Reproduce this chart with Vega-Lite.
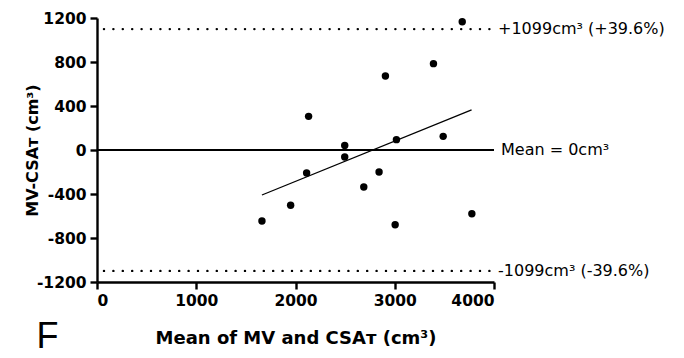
{
  "$schema": "https://vega.github.io/schema/vega-lite/v6.json",
  "autosize": {"type": "none"},
  "width": 397,
  "height": 264,
  "padding": {"left": 97, "top": 18, "right": 190, "bottom": 76},
  "background": "white",
  "config": {
    "view": {"stroke": null},
    "font": "DejaVu Sans",
    "axis": {
      "domainColor": "black",
      "domainWidth": 2.4,
      "tickColor": "black",
      "tickWidth": 2.4,
      "tickSize": 7,
      "grid": false,
      "labelExpr": "toString(datum.value)",
      "labelFont": "DejaVu Sans",
      "labelFontWeight": "bold",
      "labelFontSize": 15.5,
      "labelColor": "black",
      "titleFont": "DejaVu Sans",
      "titleFontWeight": "bold",
      "titleColor": "black"
    }
  },
  "datasets": {
    "points": [
      {"mean": 3680, "diff": 1166},
      {"mean": 3390, "diff": 785},
      {"mean": 2906, "diff": 673},
      {"mean": 2132, "diff": 306},
      {"mean": 3488, "diff": 124},
      {"mean": 3017, "diff": 94},
      {"mean": 2496, "diff": 42},
      {"mean": 2496, "diff": -64},
      {"mean": 2112, "diff": -209},
      {"mean": 2842, "diff": -200},
      {"mean": 2688, "diff": -336},
      {"mean": 1951, "diff": -503},
      {"mean": 1662, "diff": -645},
      {"mean": 3004, "diff": -679},
      {"mean": 3777, "diff": -579}
    ],
    "fit": [
      {"mean": 1662, "diff": -409},
      {"mean": 3774, "diff": 364}
    ],
    "limits": [
      {"diff": 1099, "from": 70, "to": 3970, "label": "+1099cm³ (+39.6%)"},
      {"diff": -1099, "from": 70, "to": 3970, "label": "-1099cm³ (-39.6%)"}
    ],
    "bias": [
      {"diff": 0, "from": 0, "to": 4000, "label": "Mean = 0cm³"}
    ],
    "panel": [
      {"tag": "F"}
    ]
  },
  "layer": [
    {
      "data": {"name": "limits"},
      "mark": {"type": "rule", "color": "black", "strokeWidth": 2.4, "strokeDash": [0.1, 9.3], "strokeCap": "round"},
      "encoding": {
        "x": {"field": "from", "type": "quantitative",
              "scale": {"domain": [0, 4000], "nice": false},
              "axis": {"values": [0, 1000, 2000, 3000, 4000], "title": "Mean of MV and CSAᴛ (cm³)", "titleFontSize": 18, "titlePadding": 21, "labelPadding": 4}},
        "x2": {"field": "to"},
        "y": {"field": "diff", "type": "quantitative",
              "scale": {"domain": [-1200, 1200], "nice": false, "zero": false},
              "axis": {"values": [-1200, -800, -400, 0, 400, 800, 1200], "title": "MV-CSAᴛ (cm³)", "titleFontSize": 16, "titlePadding": -4, "labelPadding": 4}}
      }
    },
    {
      "data": {"name": "bias"},
      "mark": {"type": "rule", "color": "black", "strokeWidth": 2.2},
      "encoding": {
        "x": {"field": "from", "type": "quantitative"},
        "x2": {"field": "to"},
        "y": {"field": "diff", "type": "quantitative"}
      }
    },
    {
      "data": {"name": "fit"},
      "mark": {"type": "line", "color": "black", "strokeWidth": 1.3},
      "encoding": {
        "x": {"field": "mean", "type": "quantitative"},
        "y": {"field": "diff", "type": "quantitative"}
      }
    },
    {
      "data": {"name": "points"},
      "mark": {"type": "circle", "color": "black", "opacity": 1, "size": 55},
      "encoding": {
        "x": {"field": "mean", "type": "quantitative"},
        "y": {"field": "diff", "type": "quantitative"}
      }
    },
    {
      "data": {"name": "limits"},
      "mark": {"type": "text", "align": "left", "baseline": "middle", "dx": 7, "fontSize": 16, "font": "DejaVu Sans", "color": "black"},
      "encoding": {
        "x": {"field": "to", "type": "quantitative"},
        "y": {"field": "diff", "type": "quantitative"},
        "text": {"field": "label"}
      }
    },
    {
      "data": {"name": "bias"},
      "mark": {"type": "text", "align": "left", "baseline": "middle", "dx": 7, "fontSize": 16, "font": "DejaVu Sans", "color": "black"},
      "encoding": {
        "x": {"field": "to", "type": "quantitative"},
        "y": {"field": "diff", "type": "quantitative"},
        "text": {"field": "label"}
      }
    },
    {
      "data": {"name": "panel"},
      "mark": {"type": "text", "align": "center", "baseline": "alphabetic", "fontSize": 36, "font": "Liberation Sans", "color": "black", "clip": false},
      "encoding": {
        "x": {"datum": -500, "type": "quantitative"},
        "y": {"datum": -1800, "type": "quantitative"},
        "text": {"field": "tag"}
      }
    }
  ]
}
